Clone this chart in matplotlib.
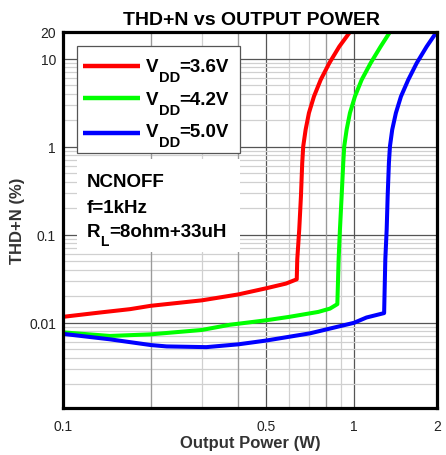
import matplotlib
matplotlib.use("Agg")
import matplotlib.pyplot as plt
from matplotlib.patches import Rectangle
from matplotlib.lines import Line2D
from matplotlib.transforms import IdentityTransform
import matplotlib.ticker as mticker

plt.rcParams['font.family'] = ['Liberation Sans', 'DejaVu Sans']

# ---- data ----
red_x = [0.1, 0.134, 0.17, 0.2, 0.3, 0.4, 0.5, 0.584, 0.636, 0.6386, 0.6487, 0.6575, 0.6642,
         0.6695, 0.6823, 0.7004, 0.7288, 0.7686, 0.8227, 0.8903, 0.969]
red_y = [0.0117, 0.0131, 0.0143, 0.0156, 0.018, 0.021, 0.0247, 0.0279, 0.0312, 0.0526, 0.115, 0.274, 0.654,
         1.008, 1.557, 2.41, 3.71, 5.73, 8.86, 13.65, 20]

green_x = [0.1, 0.145, 0.2, 0.3, 0.374, 0.5, 0.6, 0.754, 0.827, 0.877, 0.886, 0.8952, 0.9073, 0.919,
           0.9262, 0.9439, 0.969, 1.008, 1.063, 1.141, 1.235, 1.33]
green_y = [0.0078, 0.0071, 0.0074, 0.0083, 0.0095, 0.0107, 0.0117, 0.0133, 0.0145, 0.0163, 0.0526, 0.115, 0.274, 0.654,
           1.008, 1.557, 2.41, 3.71, 5.73, 8.86, 13.65, 20]

blue_x = [0.1, 0.145, 0.2, 0.227, 0.311, 0.4, 0.5, 0.706, 1.0, 1.105, 1.27, 1.282, 1.296, 1.306, 1.319,
          1.33, 1.354, 1.394, 1.451, 1.537, 1.643, 1.778, 1.924]
blue_y = [0.0075, 0.0065, 0.0056, 0.0054, 0.0053, 0.0057, 0.0063, 0.0076, 0.0100, 0.0115, 0.0129, 0.0526, 0.115, 0.274, 0.654,
          1.008, 1.557, 2.41, 3.71, 5.73, 8.86, 13.65, 20]

series_names = ['3.6V', '4.2V', '5.0V']
series_colors = ['#ff0000', '#00ff00', '#0000ff']

x_ticks = [0.1, 0.5, 1, 1.93]
x_ticklabels = ['0.1', '0.5', '1', '2']
y_ticks = [0.01, 0.1, 1, 10, 20]
y_ticklabels = ['0.01', '0.1', '1', '10', '20']

# ---- figure ----
W, H = 446, 456
fig = plt.figure(figsize=(W / 100, H / 100), dpi=100)
AX_L, AX_R, AX_T, AX_B = 63, 437, 33, 409
ax = fig.add_axes([AX_L / W, 1 - AX_B / H, (AX_R - AX_L) / W, (AX_B - AX_T) / H])
ax.set_xscale('log')
ax.set_yscale('log')
ax.set_xlim(0.1, 1.93)
ax.set_ylim(0.00108, 20)


def pa(x, y):
    """pixel -> axes fraction"""
    return (x - AX_L) / (AX_R - AX_L), (AX_B - y) / (AX_B - AX_T)


# grid
ax.grid(True, which='minor', color='#d0d0d0', lw=0.9)
ax.grid(True, which='major', color='#555555', lw=0.9)
ax.set_axisbelow(True)
for xv in [0.2, 0.4, 0.8]:
    ax.axvline(xv, color='#9a9a9a', lw=0.9, zorder=0.6)

ax.set_xticks(x_ticks)
ax.set_xticklabels(x_ticklabels)
ax.set_yticks(y_ticks)
ax.set_yticklabels(y_ticklabels)
ax.xaxis.set_minor_formatter(mticker.NullFormatter())
ax.yaxis.set_minor_formatter(mticker.NullFormatter())
ax.tick_params(which='both', length=0, labelsize=10, colors='#222222')
ax.tick_params(axis='y', pad=5)
ax.tick_params(axis='x', pad=8)

for sp in ax.spines.values():
    sp.set_linewidth(2.3)
    sp.set_color('black')
    sp.set_zorder(6)

# annotation white box
x0, y0 = pa(77, 253)
x1, y1 = pa(240, 160)
ax.add_patch(Rectangle((x0, y0), x1 - x0, y1 - y0, transform=ax.transAxes,
                       facecolor='white', edgecolor='none', zorder=1.5))

for xs, ys, c in zip([red_x, green_x, blue_x], [red_y, green_y, blue_y], series_colors):
    ax.plot(xs, ys, color=c, lw=2.9, zorder=3, solid_joinstyle='round', solid_capstyle='butt')

renderer = fig.canvas.get_renderer()


def seq_text(x, y_base, parts, zorder=8):
    for s, size, dy in parts:
        t = fig.text(x, H - (y_base + dy), s, transform=IdentityTransform(), fontsize=size,
                     fontweight='bold', va='baseline', ha='left', zorder=zorder, color='black')
        bb = t.get_window_extent(renderer)
        x = bb.x1


# legend (manual)
lx0, ly0 = pa(77, 154)
lx1, ly1 = pa(240, 47)
ax.add_patch(Rectangle((lx0, ly0), lx1 - lx0, ly1 - ly0, transform=ax.transAxes,
                       facecolor='white', edgecolor='#555555', lw=0.9, zorder=5))
line_rows = [67, 99, 134]
text_rows = [72, 105, 137]
for name, c, ly, ty in zip(series_names, series_colors, line_rows, text_rows):
    a0 = pa(83, ly)
    a1 = pa(140, ly)
    ax.add_line(Line2D([a0[0], a1[0]], [a0[1], a1[1]], transform=ax.transAxes, color=c,
                       lw=3.2, zorder=6, solid_capstyle='butt'))
    seq_text(146, ty, [('V', 13.5, 0), ('DD', 10.5, 10), ('=' + name, 13.5, 0)])

# annotation texts
seq_text(87, 187, [('NCNOFF', 13.5, 0)])
seq_text(87, 213, [('f=1kHz', 13.5, 0)])
seq_text(87, 237, [('R', 13.5, 0), ('L', 10, 9), ('=8ohm+33uH', 13.5, 0)])

fig.text(252 / W, 1 - 25 / H, 'THD+N vs OUTPUT POWER', fontsize=14, fontweight='bold',
         ha='center', va='baseline')
ax.set_xlabel('Output Power (W)', fontsize=12, fontweight='bold', color='#333333', va='baseline')
ax.xaxis.set_label_coords(0.5, pa(0, 448)[1])
ax.set_ylabel('THD+N (%)', fontsize=12, fontweight='bold', color='#333333', va='center')
ax.yaxis.set_label_coords(pa(18, 0)[0], 0.5)

fig.savefig('out.png', dpi=100)
